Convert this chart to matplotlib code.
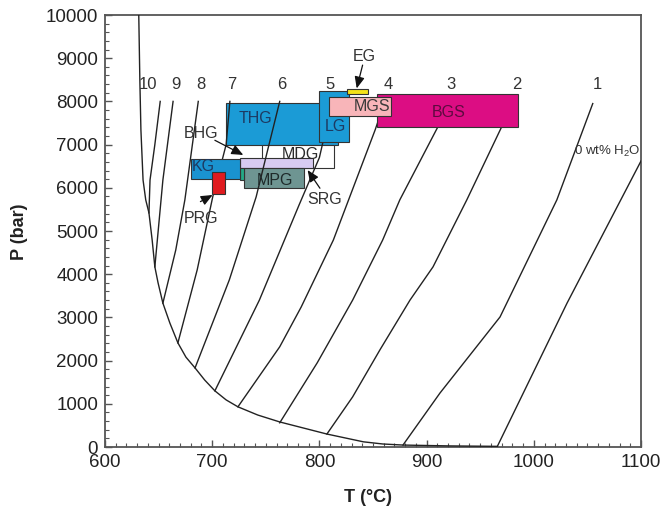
import matplotlib
matplotlib.use('Agg')
import matplotlib.pyplot as plt
from matplotlib.patches import Rectangle
from matplotlib.ticker import MultipleLocator

plt.rcParams['font.family'] = ['Liberation Sans', 'DejaVu Sans']
plt.rcParams['mathtext.fontset'] = 'custom'
plt.rcParams['mathtext.rm'] = 'Liberation Sans'
plt.rcParams['mathtext.it'] = 'Liberation Sans:italic'
plt.rcParams['mathtext.bf'] = 'Liberation Sans:bold'

# ---------------- data ----------------
solidus_T = [631.5, 632.5, 633.5, 635.5, 638, 641, 644, 646.5, 649.5, 654, 660.5, 668, 675.5,
             684, 693, 702.5, 713, 724, 742.5, 763, 785, 807, 824, 841, 859, 878, 922, 966]
solidus_P = [10000, 8500, 7340, 6180, 5720, 5420, 4790, 4170, 3800, 3330, 2870, 2410, 2080,
             1830, 1550, 1300, 1090, 930, 740, 580, 440, 300, 210, 120, 70, 45, 25, 15]

iso_names = ['10', '9', '8', '7', '6', '5', '4', '3', '2', '1', '0']
iso_T = [
    [641, 642, 646.5, 651.5],
    [646.5, 654, 663.5],
    [654, 666, 674.5, 687],
    [668, 686, 700.5, 713, 716.5],
    [684, 716, 741, 752, 763],
    [702.5, 744, 781, 800, 812],
    [724, 763, 783, 813, 852, 861],
    [763, 798, 831, 859, 875, 910.5, 922],
    [807, 831, 856.5, 884.5, 906, 937.5, 970, 980],
    [878, 912.5, 968.5, 1021.5, 1055],
    [966, 1031, 1100],
]
iso_P = [
    [5420, 6180, 7000, 8000],
    [4170, 6180, 8000],
    [3330, 4560, 5720, 8000],
    [2410, 4100, 5790, 7000, 8000],
    [1830, 3870, 5790, 6900, 8000],
    [1300, 3400, 5600, 6700, 8000],
    [930, 2320, 3240, 4790, 7340, 8000],
    [560, 1950, 3400, 4790, 5720, 7410, 8000],
    [300, 1160, 2250, 3400, 4170, 5720, 7410, 8000],
    [46, 1250, 3010, 5720, 7950],
    [15, 3330, 6620],
]
iso_label_T = [640.5, 666, 689.5, 718.5, 764.5, 810, 864.5, 922.5, 984, 1059]
iso_label_P = 8380

box_names = ['THG', 'MDG', 'BHG', 'MPG', 'GRN', 'KG', 'PRG', 'LG', 'MGS', 'BGS', 'EG']
box_T0 = [713, 746, 726, 730, 726, 680, 700, 800, 809, 853.5, 826]
box_T1 = [817, 814, 794, 786, 729.5, 726, 712, 828, 867, 985, 845]
box_P0 = [7000, 6450, 6465, 6000, 6190, 6200, 5850, 7070, 7670, 7415, 8170]
box_P1 = [7970, 6990, 6685, 6450, 6450, 6675, 6360, 8240, 8100, 8170, 8290]

inbox_labels = ['THG', 'LG', 'MGS', 'BGS', 'MDG', 'KG', 'MPG']
inbox_T = [740, 814.5, 849, 920.5, 782, 692, 758.5]
inbox_P = [7610, 7415, 7880, 7750, 6780, 6490, 6180]

ann_labels = ['EG', 'BHG', 'PRG', 'SRG']
ann_text_T = [841.5, 690, 690, 805]
ann_text_P = [9040, 7250, 5300, 5740]
ann_start_T = [840.3, 702.5, 689, 800.5]
ann_start_P = [8840, 7100, 5680, 5990]
ann_tip_T = [834.8, 729, 700.4, 789]
ann_tip_P = [8300, 6760, 5834, 6410]

# ---------------- styles ----------------
box_face = {'THG': '#1b9bd6', 'MDG': '#ffffff', 'BHG': '#d8cbf1', 'MPG': '#6e9592',
            'GRN': '#23a985', 'KG': '#1a93d0', 'PRG': '#e01b1f', 'LG': '#1b9bd6',
            'MGS': '#f8b5b9', 'BGS': '#dc0d83', 'EG': '#f3e21a'}
box_z = {'THG': 2, 'MDG': 2.1, 'BHG': 2.2, 'MPG': 2.2, 'GRN': 2.2, 'KG': 4, 'PRG': 4.1,
         'LG': 4, 'MGS': 4.1, 'BGS': 4, 'EG': 4.2}
inbox_color = {'THG': '#1d3a62', 'LG': '#1d3a62', 'MGS': '#3a3a3a', 'BGS': '#5e0a40',
               'MDG': '#2a2a2a', 'KG': '#1d3a62', 'MPG': '#1e2a2a'}

fig = plt.figure(figsize=(6.64, 5.17), dpi=100)
ax = fig.add_axes([105 / 664, 1 - 447 / 517, 536 / 664, 432 / 517])
ax.set_xlim(600, 1100)
ax.set_ylim(0, 10000)

# solidus and isopleths
ax.plot(solidus_T, solidus_P, color='#222222', lw=1.0, zorder=3, solid_joinstyle='round')
for t, p in zip(iso_T, iso_P):
    ax.plot(t, p, color='#222222', lw=1.0, zorder=3, solid_joinstyle='round')
for name, t in zip(iso_names[:-1], iso_label_T):
    ax.text(t, iso_label_P, name, fontsize=12, color='#333333', ha='center', va='center', zorder=5)
ax.text(1069, 6830, '0 wt% H$_2$O', fontsize=9.5, color='#333333', ha='center', va='center', zorder=5)

# boxes
for n, t0, t1, p0, p1 in zip(box_names, box_T0, box_T1, box_P0, box_P1):
    ax.add_patch(Rectangle((t0, p0), t1 - t0, p1 - p0, facecolor=box_face[n],
                           edgecolor='#333333', lw=0.8, zorder=box_z[n]))
for n, t, p in zip(inbox_labels, inbox_T, inbox_P):
    ax.text(t, p, n, fontsize=11.5, color=inbox_color[n], ha='center', va='center', zorder=6)

# annotations
for n, tx, py, sx, sy, hx, hy in zip(ann_labels, ann_text_T, ann_text_P, ann_start_T,
                                      ann_start_P, ann_tip_T, ann_tip_P):
    ax.text(tx, py, n, fontsize=11.5, color='#333333', ha='center', va='center', zorder=6)
    ax.annotate('', xy=(hx, hy), xytext=(sx, sy),
                arrowprops=dict(arrowstyle='-|>,head_length=0.7,head_width=0.3',
                                color='#111111', lw=0.9, shrinkA=0, shrinkB=0,
                                mutation_scale=10), zorder=7)

# axes styling
for s in ax.spines.values():
    s.set_color('#555555')
    s.set_linewidth(1.3)
ax.xaxis.set_major_locator(MultipleLocator(100))
ax.xaxis.set_minor_locator(MultipleLocator(10))
ax.yaxis.set_major_locator(MultipleLocator(1000))
ax.yaxis.set_minor_locator(MultipleLocator(200))
ax.tick_params(which='both', direction='in', top=False, right=False, color='#555555')
ax.tick_params(which='major', length=5, width=1.0, labelsize=13.5, labelcolor='#222222', pad=5)
ax.tick_params(which='minor', length=3, width=0.8)

fig.text(368 / 664, 1 - 497 / 517, 'T (°C)', fontsize=13, fontweight='bold',
         ha='center', va='center', color='#222222')
fig.text(19 / 664, 1 - 232 / 517, 'P (bar)', fontsize=13, fontweight='bold',
         ha='center', va='center', rotation=90, color='#222222')

fig.savefig('out.png', dpi=100)
